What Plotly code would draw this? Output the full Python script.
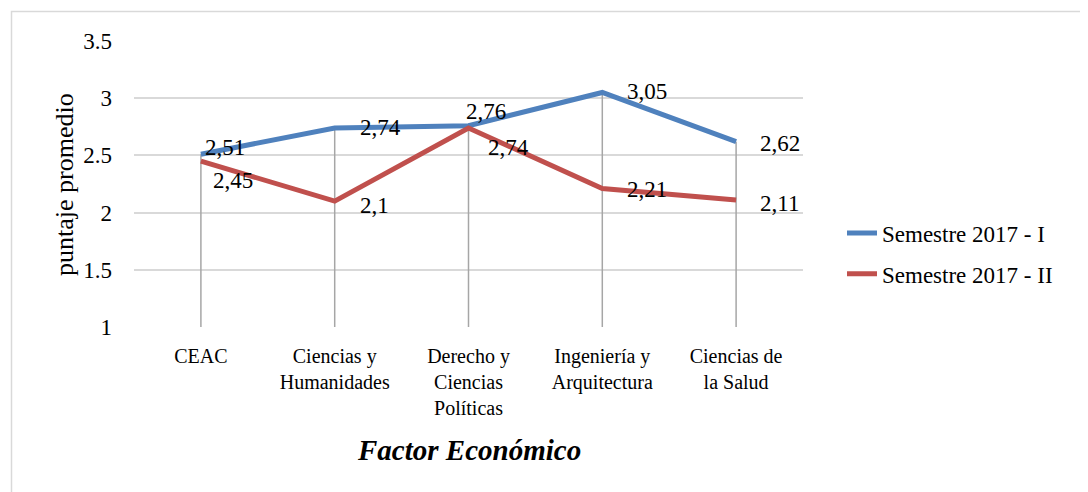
import plotly.graph_objects as go

categories = ["CEAC", "Ciencias y<br>Humanidades", "Derecho y<br>Ciencias<br>Políticas",
              "Ingeniería y<br>Arquitectura", "Ciencias de<br>la Salud"]
sem1 = [2.51, 2.74, 2.76, 3.05, 2.62]
sem2 = [2.45, 2.10, 2.74, 2.21, 2.11]
sem1_labels = ["2,51", "2,74", "2,76", "3,05", "2,62"]
sem2_labels = ["2,45", "2,1", "2,74", "2,21", "2,11"]
y_ticks = [1, 1.5, 2, 2.5, 3, 3.5]
y_tick_text = ["1", "1.5", "2", "2.5", "3", "3.5"]

# label offsets (style only, px)
sem1_shift = [(2, 7), (23, 0), (-5, 14), (23, 1), (22, -2)]
sem2_shift = [(10, -19), (23, -4), (17, -20), (23, -1), (22, -3)]

BLUE = "#4f81bd"
RED = "#c0504d"
FONT = "Liberation Serif, Times New Roman, serif"

OFF = 8  # page body margin
W, H = 1088 - OFF, 492 - OFF

fig = go.Figure()

# drop lines from the highest point down to the axis minimum
dx, dy = [], []
for i, c in enumerate(categories):
    dx += [c, c, None]
    dy += [max(sem1[i], sem2[i]), y_ticks[0], None]
fig.add_trace(go.Scatter(x=dx, y=dy, mode="lines", line=dict(color="#a6a6a6", width=1.5),
                         showlegend=False, hoverinfo="skip"))

fig.add_trace(go.Scatter(x=categories, y=sem1, mode="lines", name="Semestre 2017 - I",
                         line=dict(color=BLUE, width=5), legendgroup="a"))
fig.add_trace(go.Scatter(x=categories, y=sem2, mode="lines", name="Semestre 2017 - II",
                         line=dict(color=RED, width=5), legendgroup="b"))

for vals, labs, shifts in ((sem1, sem1_labels, sem1_shift), (sem2, sem2_labels, sem2_shift)):
    for c, v, t, (sx, sy) in zip(categories, vals, labs, shifts):
        fig.add_annotation(x=c, y=v, text=t, showarrow=False, xanchor="left", yanchor="middle",
                           xshift=sx, yshift=sy, font=dict(family=FONT, size=23, color="black"))

L, T = 134 - OFF, 41 - OFF
R = W - (803 - OFF)
B = H - (327 - OFF)
PW, PH = W - L - R, H - T - B

def px(xp):
    return (xp - OFF - L) / PW

def py(yp):
    return 1 - (yp - OFF - T) / PH

# outer frame
fig.add_shape(type="rect", xref="paper", yref="paper",
              x0=px(11.5), x1=px(1100), y0=py(500), y1=py(11.5),
              line=dict(color="#d9d9d9", width=1.5), fillcolor="rgba(0,0,0,0)", layer="below")

# y-axis title
fig.add_annotation(xref="paper", yref="paper", x=px(64), y=py(185),
                   text="puntaje promedio", textangle=-90, showarrow=False,
                   xanchor="center", yanchor="middle",
                   font=dict(family=FONT, size=26, color="black"))

# chart title (below)
fig.add_annotation(xref="paper", yref="paper", x=0.5, y=py(450),
                   text="<b><i>Factor Económico</i></b>", showarrow=False,
                   xanchor="center", yanchor="middle",
                   font=dict(family=FONT, size=29, color="black"))

fig.update_layout(
    width=W, height=H,
    margin=dict(l=L, r=R, t=T, b=B, autoexpand=False),
    paper_bgcolor="white", plot_bgcolor="white",
    font=dict(family=FONT, color="black"),
    showlegend=True,
    legend=dict(x=px(842), y=py(253.5), xanchor="left", yanchor="middle",
                font=dict(family=FONT, size=23, color="black"), tracegroupgap=8,
                bgcolor="rgba(0,0,0,0)"),
)
fig.update_xaxes(type="category", categoryorder="array", categoryarray=categories,
                 range=[-0.5, len(categories) - 0.5], showgrid=False,
                 showline=False, zeroline=False, ticks="",
                 tickfont=dict(family=FONT, size=20, color="black"), ticklabelstandoff=15)
fig.update_yaxes(range=[1, 3.5], tickvals=y_ticks, ticktext=y_tick_text,
                 showgrid=True, gridcolor="#d9d9d9", gridwidth=1.5, zeroline=False,
                 showline=False, ticks="", ticklabelstandoff=21,
                 tickfont=dict(family=FONT, size=23, color="black"))

fig.write_html("out.html")
